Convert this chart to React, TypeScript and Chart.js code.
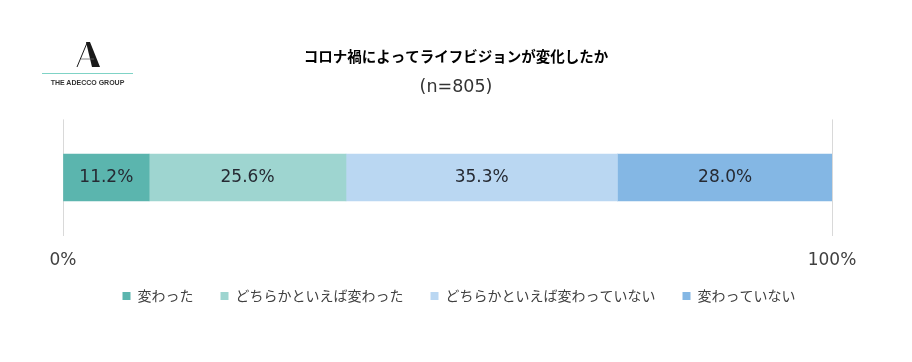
import React, { useEffect, useRef } from "react";
import { Chart, registerables } from "chart.js";

Chart.register(...registerables);

const titleText = "コロナ禍によってライフビジョンが変化したか";
const subtitleText = "(n=805)";
const categories = ["全体"];
const seriesNames = ["変わった", "どちらかといえば変わった", "どちらかといえば変わっていない", "変わっていない"];
const seriesValues = [11.2, 25.6, 35.3, 28.0];
const seriesColors = ["#5BB5AE", "#9ED5D0", "#BAD7F2", "#84B7E4"];
const xTicks = [0, 100];

const FONT = "'Noto Sans CJK JP', 'Noto Sans', sans-serif";
const NUM_FONT = "'DejaVu Sans', 'Noto Sans CJK JP', sans-serif";

const valueLabelPlugin = {
  id: "valueLabels",
  afterLayout(chart: any) {
    const l = chart.legend;
    if (l) {
      l.top -= 24;
      l.bottom -= 24;
      l.left += 3;
      l.right += 3;
    }
  },
  afterDatasetsDraw(chart: any) {
    const ctx = chart.ctx;
    ctx.save();
    ctx.font = `17px ${NUM_FONT}`;
    ctx.fillStyle = "#262a33";
    ctx.textAlign = "center";
    ctx.textBaseline = "middle";
    chart.data.datasets.forEach((ds: any, i: number) => {
      const meta = chart.getDatasetMeta(i);
      meta.data.forEach((bar: any, j: number) => {
        const v = ds.data[j];
        const p = bar.getProps(["x", "base", "y"], true);
        const cx = (p.x + p.base) / 2;
        ctx.fillText(v.toFixed(1) + "%", cx, p.y);
      });
    });
    ctx.restore();
  },
};

export default function App() {
  const ref = useRef<HTMLCanvasElement | null>(null);
  useEffect(() => {
    if (!ref.current) return;
    const chart = new Chart(ref.current, {
      type: "bar",
      data: {
        labels: categories,
        datasets: seriesNames.map((name, i) => ({
          label: name,
          data: [seriesValues[i]],
          backgroundColor: seriesColors[i],
          borderWidth: 0,
          barThickness: 47,
        })),
      },
      options: {
        animation: false,
        responsive: false,
        indexAxis: "y",
        layout: { padding: { top: 0, bottom: 25, left: 0, right: 0 } },
        scales: {
          x: {
            stacked: true,
            min: 0,
            max: 100,
            afterBuildTicks: (scale: any) => {
              scale.ticks = xTicks.map((v) => ({ value: v }));
            },
            ticks: {
              padding: 15,
              color: "#404040",
              font: { family: NUM_FONT, size: 17 },
              callback: (v: any) => v + "%",
              maxRotation: 0,
            },
            grid: { color: "#D9D9D9", drawTicks: false, lineWidth: 1 },
            border: { display: false },
          },
          y: {
            stacked: true,
            ticks: { display: false },
            grid: { display: false },
            border: { display: false },
            afterFit: (scale: any) => {
              scale.width = 63;
            },
          },
          y2: {
            type: "linear",
            position: "right",
            ticks: { display: false },
            grid: { display: false },
            border: { display: false },
            afterFit: (scale: any) => {
              scale.width = 80;
            },
          },
        },
        plugins: {
          tooltip: { enabled: false },
          title: {
            display: true,
            text: titleText,
            color: "#000000",
            font: { family: FONT, size: 14.5, weight: "bold" },
            padding: { top: 48, bottom: 12 },
          },
          subtitle: {
            display: true,
            text: subtitleText,
            color: "#333333",
            font: { family: NUM_FONT, size: 17.5, weight: "normal" },
            padding: { top: 0, bottom: 21 },
          },
          legend: {
            position: "bottom",
            labels: {
              boxWidth: 8,
              boxHeight: 8,
              padding: 27,
              color: "#404040",
              font: { family: FONT, size: 14 },
            },
          },
        },
      },
      plugins: [valueLabelPlugin],
    } as any);
    return () => chart.destroy();
  }, []);

  return (
    <div style={{ position: "fixed", left: 0, top: 0, width: 912, height: 362, background: "#fff" }}>
      <canvas ref={ref} width={912} height={362} style={{ position: "absolute", left: 0, top: 0 }} />
      <svg
        width={91}
        height={32}
        viewBox="0 0 91 32"
        style={{ position: "absolute", left: 42, top: 38 }}
        aria-label="Adecco logo mark"
      >
        <polygon points="44,4 48,4 58,29 50,29" fill="#1a1a1a" />
        <line x1="45" y1="5" x2="35" y2="29" stroke="#1a1a1a" strokeWidth="1" />
        <line x1="39" y1="21" x2="52" y2="21" stroke="#666" strokeWidth="0.8" />
      </svg>
      <div style={{ position: "absolute", left: 42, top: 73, width: 91, height: 1, background: "#7FD3C6" }} />
      <div
        style={{
          position: "absolute",
          left: 42,
          top: 78,
          width: 91,
          textAlign: "center",
          fontFamily: "'Liberation Sans', Arial, sans-serif",
          fontSize: 7,
          fontWeight: 700,
          lineHeight: "9px",
          color: "#333",
          whiteSpace: "nowrap",
        }}
      >
        THE ADECCO GROUP
      </div>
    </div>
  );
}
